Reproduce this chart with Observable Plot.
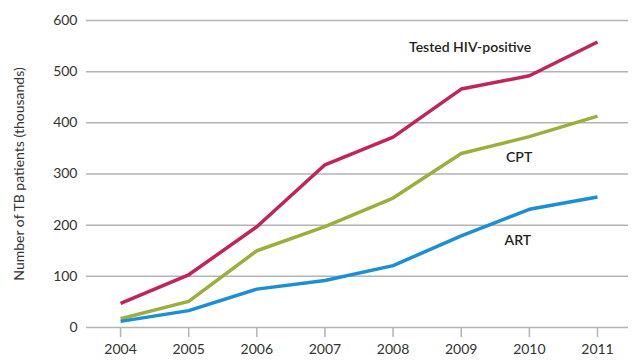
<!DOCTYPE html>
<html>
<head>
<meta charset="utf-8">
<script src="https://cdn.jsdelivr.net/npm/d3@7"></script>
<script src="https://cdn.jsdelivr.net/npm/@observablehq/plot@0.6"></script>
<style>
  html, body { margin: 0; padding: 0; background: #fff; }
  #chart svg { display: block; font-family: Lato, "Open Sans", sans-serif; }
</style>
</head>
<body>
<div id="chart"></div>
<script>
const years = [2004, 2005, 2006, 2007, 2008, 2009, 2010, 2011];
const testedHIV = [47, 103, 197, 318, 372, 466, 492, 558];
const cpt = [17, 51, 150, 197, 253, 340, 373, 413];
const art = [12, 33, 75, 92, 121, 179, 231, 255];
const seriesNames = ["Tested HIV-positive", "CPT", "ART"];
const seriesColors = ["#c1245a", "#9aaf3c", "#1b8fd6"];
const yTicks = [0, 100, 200, 300, 400, 500, 600];
const yLabel = "Number of TB patients (thousands)";
// label anchors in data units
const labelYears = [2009.13, 2009.85, 2009.83];
const labelValues = [547, 332, 170];

const seriesValues = [testedHIV, cpt, art];
const rows = seriesNames.flatMap((name, i) =>
  years.map((year, j) => ({ series: name, year, value: seriesValues[i][j] }))
);
const labels = seriesNames.map((name, i) => ({ name, year: labelYears[i], value: labelValues[i] }));

const chart = Plot.plot({
  width: 632,
  height: 363,
  marginLeft: 86,
  marginRight: 4,
  marginTop: 20,
  marginBottom: 36,
  style: { fontFamily: "Lato, 'Open Sans', sans-serif", fontSize: "14px", color: "#333" },
  x: { domain: [2003.5, 2011.455] },
  y: { domain: [0, 600] },
  color: { domain: seriesNames, range: seriesColors },
  marks: [
    Plot.ruleY(yTicks, { stroke: "#b3b3b3", strokeWidth: 1.5 }),
    Plot.axisY(yTicks, {
      tickSize: 0, tickPadding: 9, fontSize: 14, fill: "#333",
      label: yLabel, labelAnchor: "center", labelOffset: 72, labelArrow: "none"
    }),
    Plot.axisX(years, {
      tickSize: 10, tickPadding: 7, stroke: "#b3b3b3", strokeWidth: 1.5,
      tickFormat: d => String(d), fontSize: 14, fill: "#333", label: null
    }),
    Plot.line(rows, {
      x: "year", y: "value", z: "series", stroke: "series",
      strokeWidth: 3.5, strokeLinejoin: "miter", strokeLinecap: "butt"
    }),
    Plot.text(labels, {
      x: "year", y: "value", text: "name", fontSize: 14, fontWeight: 600, fill: "#231f20"
    })
  ]
});
document.getElementById("chart").appendChild(chart);
</script>
</body>
</html>
